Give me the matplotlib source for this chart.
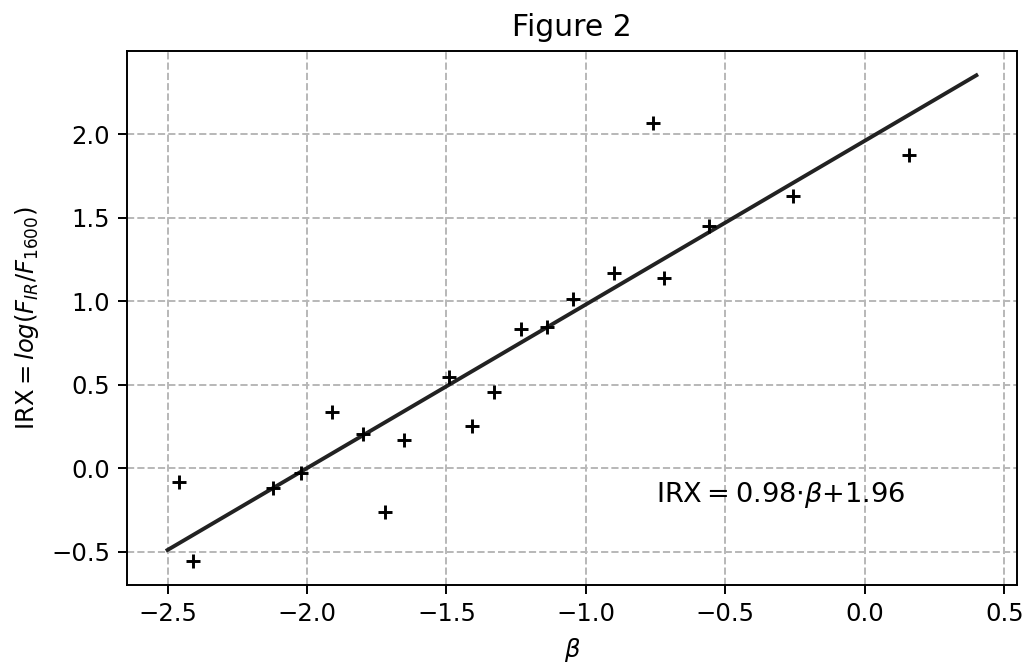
import numpy as np
import matplotlib
matplotlib.use('Agg')
import matplotlib.pyplot as plt

# UV slope beta and IRX values
beta = [-2.46, -2.407, -2.123, -2.02, -1.910, -1.798, -1.722, -1.651, -1.491,
        -1.407, -1.329, -1.231, -1.141, -1.048, -0.898, -0.721, -0.760,
        -0.557, -0.258, 0.159]
irx = [-0.08, -0.553, -0.116, -0.031, 0.338, 0.207, -0.261, 0.168, 0.545,
       0.255, 0.454, 0.835, 0.847, 1.01, 1.169, 1.139, 2.069,
       1.449, 1.628, 1.876]

# fit line: IRX = 0.98*beta + 1.96
slope = 0.98
intercept = 1.96
fit_x = [-2.5, 0.4]

plt.rcParams['font.size'] = 10

fig, ax = plt.subplots(figsize=(1025 / 175, 663 / 175), dpi=175)
fig.subplots_adjust(left=0.124, right=0.992, top=0.923, bottom=0.118)

fit_x = np.array(fit_x)
ax.plot(fit_x, slope * fit_x + intercept, color='#222222', linewidth=1.6)
ax.plot(beta, irx, linestyle='none', marker='+', color='black',
        markersize=6, markeredgewidth=1.2)

ax.grid(True, linestyle='--', color='#b8b8b8', linewidth=0.8)
ax.text(-0.75, -0.2, r'IRX$=$0.98$\cdot\beta$+1.96', fontsize=11.2, va='baseline')

ax.set_title('Figure 2', fontsize=12.3)
ax.set_xlabel(r'$\beta$')
ax.set_ylabel(r'IRX$=log(F_{IR}/F_{1600})$')

plt.savefig('out.png', dpi=175)
